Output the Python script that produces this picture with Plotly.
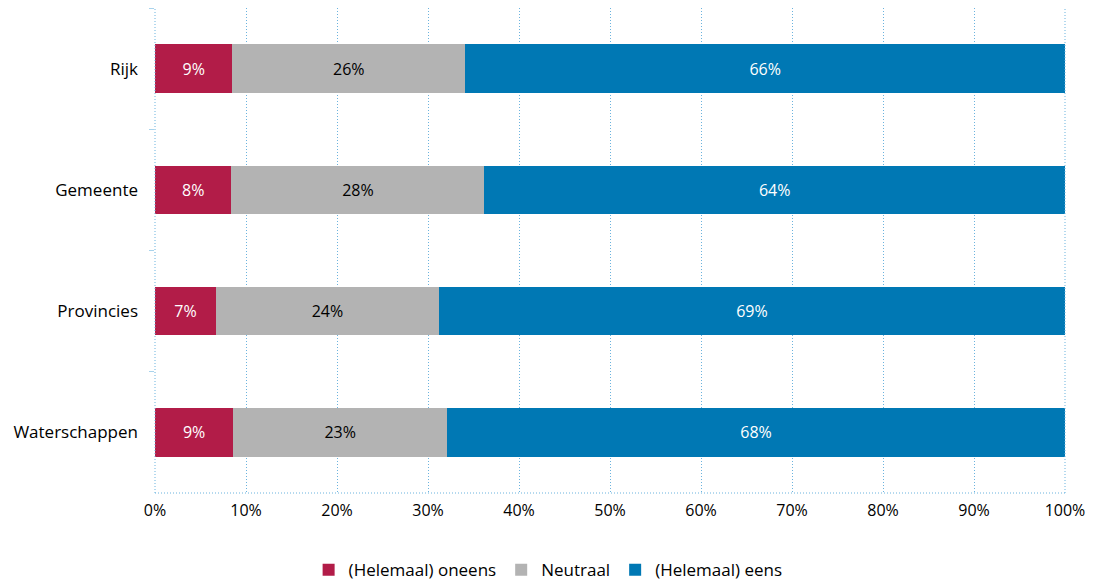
import plotly.graph_objects as go

categories = ["Rijk", "Gemeente", "Provincies", "Waterschappen"]
oneens = [8.5, 8.4, 6.7, 8.6]
neutraal = [25.6, 27.8, 24.5, 23.5]
eens = [65.9, 63.8, 68.8, 67.9]
labels_oneens = ["9%", "8%", "7%", "9%"]
labels_neutraal = ["26%", "28%", "24%", "23%"]
labels_eens = ["66%", "64%", "69%", "68%"]
series_names = ["(Helemaal) oneens", "Neutraal", "(Helemaal) eens"]
colors = ["#B21C48", "#B3B3B3", "#0078B4"]
text_colors = ["white", "black", "white"]
tick_vals = [0, 10, 20, 30, 40, 50, 60, 70, 80, 90, 100]
tick_text = [f"{v}%" for v in tick_vals]

FONT = "'Open Sans', 'DejaVu Sans', sans-serif"
GRID = "#6BB3DE"
DOT = "1px,2px"

fig = go.Figure()
for name, vals, labs, col, tc in zip(series_names, [oneens, neutraal, eens],
                                     [labels_oneens, labels_neutraal, labels_eens],
                                     colors, text_colors):
    fig.add_trace(go.Bar(
        y=categories, x=vals, name=name, orientation="h",
        marker=dict(color=col, line=dict(width=0)),
        text=labs, textposition="inside", insidetextanchor="middle",
        textangle=0,
        textfont=dict(color=tc, size=16, family=FONT),
        hoverinfo="skip",
    ))

fig.update_layout(
    barmode="stack",
    bargap=0.6,
    width=1086, height=572,
    margin=dict(l=147, r=29, t=0, b=87, autoexpand=False),
    paper_bgcolor="white", plot_bgcolor="white",
    font=dict(family=FONT, size=16, color="black"),
    legend=dict(orientation="h", x=0.432, xanchor="center",
                y=-0.122, yanchor="top",
                font=dict(size=17), traceorder="normal", itemwidth=30),
    uniformtext=dict(mode="show", minsize=10),
    shapes=[
        dict(type="line", xref="paper", yref="paper", x0=0, x1=1, y0=0, y1=0,
             line=dict(color=GRID, width=1, dash=DOT)),
        dict(type="line", xref="paper", yref="paper", x0=0, x1=0, y0=0, y1=1,
             line=dict(color=GRID, width=1, dash=DOT)),
        dict(type="line", xref="paper", yref="paper", x0=1, x1=1, y0=0, y1=1,
             line=dict(color=GRID, width=1, dash=DOT)),
    ],
)
fig.update_xaxes(
    range=[0, 100], tickvals=tick_vals, ticktext=tick_text,
    showgrid=True, gridcolor=GRID, griddash=DOT, gridwidth=1,
    zeroline=False, showline=False, automargin=False,
    ticks="", ticklabelstandoff=6, tickfont=dict(size=16), fixedrange=True,
)
fig.update_yaxes(
    categoryorder="array", categoryarray=categories, autorange="reversed",
    showgrid=False, zeroline=False, showline=False, automargin=False,
    ticks="outside", tickson="boundaries", ticklen=5, tickcolor="#A9D3EC", tickwidth=1,
    ticklabelstandoff=16, tickfont=dict(size=17), fixedrange=True,
)
fig.write_html("out.html")
